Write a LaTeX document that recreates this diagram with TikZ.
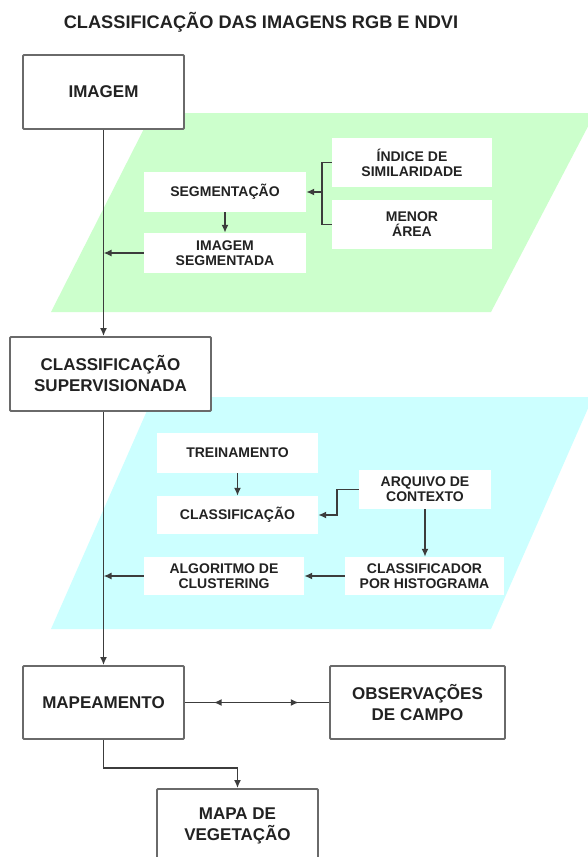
\documentclass[tikz,border=0pt]{standalone}
\usepackage{fontspec}
\setmainfont{Liberation Sans}
\usetikzlibrary{arrows.meta,decorations.markings}
\definecolor{grn}{HTML}{CCFFCC}
\definecolor{cyn}{HTML}{CCFFFF}
\definecolor{bord}{HTML}{6A6A6A}
\definecolor{lin}{HTML}{3C3C3C}
\definecolor{txt}{HTML}{222222}
\begin{document}
\begin{tikzpicture}[x=1pt,y=-1pt,
  mainbox/.style={draw=bord, line width=1.8pt, fill=white, rounded corners=1pt,
    inner sep=0pt, align=center, text=txt, font=\bfseries\fontsize{17}{21}\selectfont},
  innerbox/.style={fill=white, inner sep=0pt, align=center, text=txt,
    font=\bfseries\fontsize{14}{15}\selectfont},
  conn/.style={draw=lin, line width=1.7pt},
  arr/.style={-{Latex[length=8pt,width=7pt]}}
]
\clip (0,0) rectangle (588,857);
\fill[white] (0,0) rectangle (588,857);
\node[text=txt, font=\bfseries\fontsize{18.2}{21}\selectfont] (title) at (261,22) {CLASSIFICAÇÃO DAS IMAGENS RGB E NDVI};
% background bands
\fill[grn] (152,113) -- (595,113) -- (491,312) -- (51,312) -- cycle;
\fill[cyn] (153,397) -- (593,397) -- (491,629) -- (51,629) -- cycle;
% main boxes
\node[mainbox, minimum width=161pt, minimum height=74pt] (img) at (103.5,92) {IMAGEM};
\node[mainbox, minimum width=201pt, minimum height=74pt] (cs) at (110.5,374) {CLASSIFICAÇÃO\\SUPERVISIONADA};
\node[mainbox, minimum width=161pt, minimum height=73pt] (map) at (103.5,702.5) {MAPEAMENTO};
\node[mainbox, minimum width=175pt, minimum height=73pt] (obs) at (417.5,702.5) {OBSERVAÇÕES\\DE CAMPO};
\node[mainbox, minimum width=161pt, minimum height=74pt] (mapa) at (237.5,826) {MAPA DE\\VEGETAÇÃO};
% inner boxes (green)
\node[innerbox, minimum width=160pt, minimum height=49pt] (idx) at (412,162.5) {ÍNDICE DE\\SIMILARIDADE};
\node[innerbox, minimum width=160pt, minimum height=49pt] (men) at (412,224.5) {MENOR\\ÁREA};
\node[innerbox, minimum width=162pt, minimum height=40pt] (seg) at (225,192) {SEGMENTAÇÃO};
\node[innerbox, minimum width=162pt, minimum height=40pt] (imseg) at (225,253) {IMAGEM\\SEGMENTADA};
% inner boxes (cyan)
\node[innerbox, minimum width=161pt, minimum height=40pt] (trein) at (237.5,453) {TREINAMENTO};
\node[innerbox, minimum width=161pt, minimum height=38pt] (cla) at (237.5,515) {CLASSIFICAÇÃO};
\node[innerbox, minimum width=132pt, minimum height=39pt] (arq) at (425,489.5) {ARQUIVO DE\\CONTEXTO};
\node[innerbox, minimum width=159pt, minimum height=38pt] (clf) at (424.5,576) {CLASSIFICADOR\\POR HISTOGRAMA};
\node[innerbox, minimum width=160pt, minimum height=38pt] (alg) at (224,576) {ALGORITMO DE\\CLUSTERING};
% main flow
\draw[conn,arr] (img.south) -- (img.south |- cs.north);
\draw[conn,arr] (img.south |- cs.south) -- (map.north);
\draw[conn,arr] (map.south) -- ++(0,28) -| (mapa.north);
\draw[conn, postaction={decorate}, decoration={markings,
  mark=at position 0.2 with {\arrowreversed{Latex[length=8pt,width=7pt]}},
  mark=at position 0.79 with {\arrow{Latex[length=8pt,width=7pt]}}}]
  (map.east) -- (obs.west);
% green section
\coordinate (bk) at (322,192);
\draw[conn] (idx.west) -- (idx.west -| bk) -- (men.west -| bk) -- (men.west);
\draw[conn,arr] (bk) -- (seg.east);
\draw[conn,arr] (seg.south) -- (imseg.north);
\draw[conn,arr] (imseg.west) -- (imseg.west -| img.south);
% cyan section
\draw[conn,arr] (trein.south) -- (cla.north);
\draw[conn,arr] (arq.west) -- ++(-22,0) |- (cla.east);
\draw[conn,arr] (arq.south) -- (arq.south |- clf.north);
\draw[conn,arr] (clf.west) -- (alg.east);
\draw[conn,arr] (alg.west) -- (alg.west -| img.south);
\end{tikzpicture}
\end{document}
